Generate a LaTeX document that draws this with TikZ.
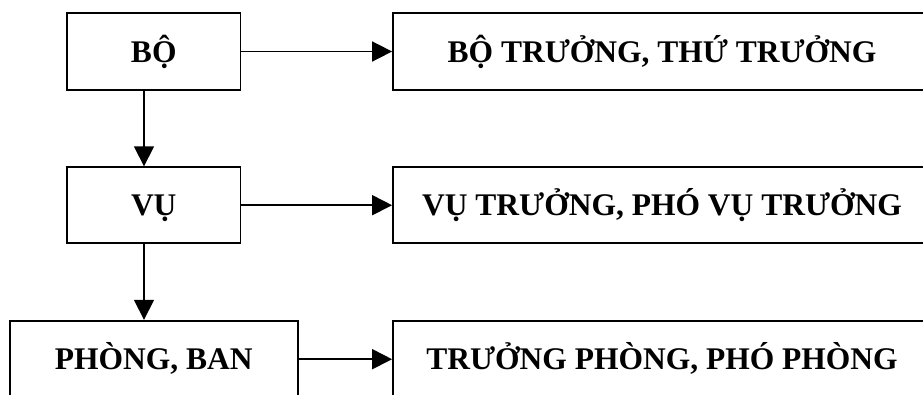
\documentclass[tikz,border=0pt]{standalone}
\usepackage{fontspec}
\setmainfont{Liberation Serif}
\usetikzlibrary{arrows.meta}
\begin{document}
\begin{tikzpicture}[x=1pt,y=1pt,
  box/.style={draw, line width=1.8pt, inner sep=0pt, minimum height=77pt,
    text height=21pt, text depth=0pt,
    font=\fontsize{31.5}{36}\selectfont\bfseries},
  link/.style={line width=1.7pt, -{Triangle[length=20pt,width=20pt]}}]
\useasboundingbox (0,0) rectangle (923,-394);
\clip (0,0) rectangle (923,-394);
\node[box, minimum width=173.5pt, minimum height=77pt] (bo) at (153.75,-51.5) {BỘ};
\node[box, minimum width=173.5pt, minimum height=76pt] (vu) at (153.75,-205.2) {VỤ};
\node[box, minimum width=287.7pt, minimum height=77pt] (phong) at (153.85,-359.2) {PHÒNG, BAN};
\node[box, minimum width=538pt, minimum height=77pt] (bo2) at (662,-51.5) {BỘ TRƯỞNG, THỨ TRƯỞNG};
\node[box, minimum width=538pt, minimum height=76pt] (vu2) at (662,-205.2) {VỤ TRƯỞNG, PHÓ VỤ TRƯỞNG};
\node[box, minimum width=538pt, minimum height=77pt] (phong2) at (662,-359.2) {TRƯỞNG PHÒNG, PHÓ PHÒNG};
\coordinate (ax) at (144,0);
\draw[link] (bo) -- (bo2);
\draw[link] (vu) -- (vu2);
\draw[link] (phong) -- (phong2);
\draw[link] (bo.south -| ax) -- (vu.north -| ax);
\draw[link] (vu.south -| ax) -- (phong.north -| ax);
\end{tikzpicture}
\end{document}
